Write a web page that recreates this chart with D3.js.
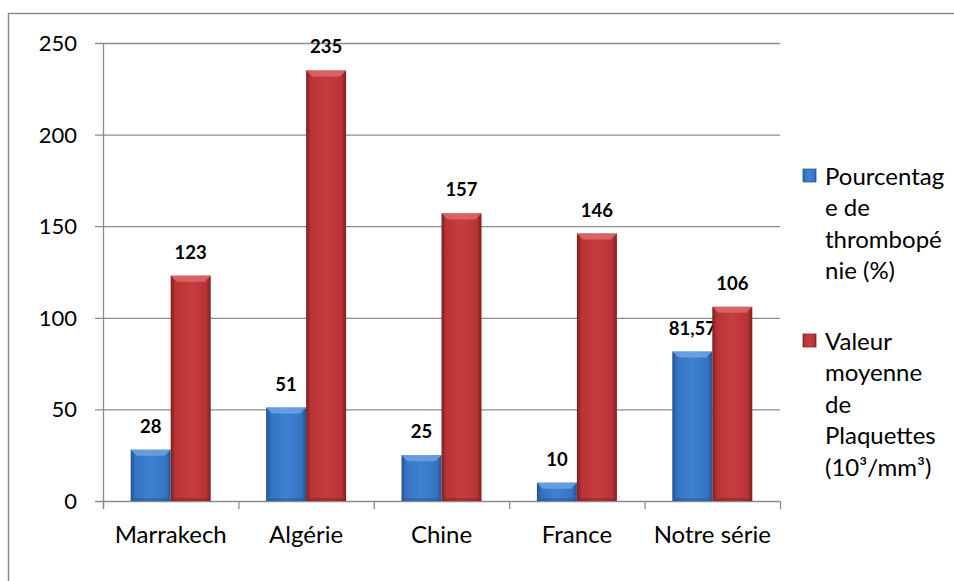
<!DOCTYPE html>
<html><head><meta charset="utf-8">
<script src="https://cdn.jsdelivr.net/npm/d3@7"></script>
<style>body{margin:0;background:#fff}svg{display:block}</style>
</head><body>
<svg id="c" width="954" height="581"></svg>
<script>
const categories = ["Marrakech", "Algérie", "Chine", "France", "Notre série"];
const pourcentage = [28, 51, 25, 10, 81.57];
const plaquettes = [123, 235, 157, 146, 106];
const pourcentageLabels = ["28", "51", "25", "10", "81,57"];
const plaquettesLabels = ["123", "235", "157", "146", "106"];
const yTicks = [0, 50, 100, 150, 200, 250];
const legendLines1 = ["Pourcentag", "e de", "thrombopé", "nie (%)"];
const legendLines2 = ["Valeur", "moyenne", "de", "Plaquettes", "(10³/mm³)"];

const FONT = "Lato, 'Open Sans', sans-serif";
const svg = d3.select("#c");
const defs = svg.append("defs");
function grad(id, edge, mid, light) {
  const g = defs.append("linearGradient").attr("id", id).attr("x1", 0).attr("x2", 1).attr("y1", 0).attr("y2", 0);
  g.append("stop").attr("offset", "0").attr("stop-color", edge);
  g.append("stop").attr("offset", "0.12").attr("stop-color", mid);
  g.append("stop").attr("offset", "0.5").attr("stop-color", light);
  g.append("stop").attr("offset", "0.88").attr("stop-color", mid);
  g.append("stop").attr("offset", "1").attr("stop-color", edge);
}
grad("gBlue", "#24558f", "#3473c2", "#3f82d2");
grad("gRed", "#7e1f1f", "#b83436", "#c73d3e");

svg.append("rect").attr("x", 8.5).attr("y", 13.5).attr("width", 1000).attr("height", 1000)
  .attr("fill", "none").attr("stroke", "#8c8c8c").attr("stroke-width", 1.5);

const x0 = 103, x1 = 780, yTop = 43, yBot = 501;
const x = d3.scaleBand().domain(categories).range([x0, x1]).paddingInner(0).paddingOuter(0);
const y = d3.scaleLinear().domain([0, 250]).range([yBot, yTop]);
const barW = 40;

// gridlines
svg.append("g").selectAll("line").data(yTicks).join("line")
  .attr("x1", x0 - 8).attr("x2", x1).attr("y1", d => y(d) + 0.5).attr("y2", d => y(d) + 0.5)
  .attr("stroke", "#8c8c8c").attr("stroke-width", 1.3);
// y axis line
svg.append("line").attr("x1", x0 + 0.5).attr("x2", x0 + 0.5).attr("y1", yTop).attr("y2", yBot + 8)
  .attr("stroke", "#8c8c8c").attr("stroke-width", 1.3);
// category ticks
svg.append("g").selectAll("line").data(d3.range(categories.length + 1)).join("line")
  .attr("x1", i => x0 + i * x.bandwidth() + 0.5).attr("x2", i => x0 + i * x.bandwidth() + 0.5)
  .attr("y1", yBot).attr("y2", yBot + 8).attr("stroke", "#8c8c8c").attr("stroke-width", 1.3);

// y tick labels
svg.append("g").selectAll("text").data(yTicks).join("text")
  .attr("x", 77).attr("y", d => y(d)).attr("dy", "0.36em").attr("text-anchor", "end")
  .attr("font-family", FONT).attr("font-size", 22).attr("fill", "#000").text(d => d);

// x labels
svg.append("g").selectAll("text").data(categories).join("text")
  .attr("x", d => x(d) + x.bandwidth() / 2).attr("y", 543).attr("text-anchor", "middle")
  .attr("font-family", FONT).attr("font-size", 24).attr("fill", "#000").text(d => d);

function drawBars(values, labels, offset, gid, light, dark) {
  const g = svg.append("g");
  values.forEach((v, i) => {
    const bx = x(categories[i]) + x.bandwidth() / 2 + offset;
    const by = y(v), bh = yBot - by;
    g.append("rect").attr("x", bx).attr("y", by).attr("width", barW).attr("height", bh).attr("fill", `url(#${gid})`);
    const b = Math.min(6, bh / 2);
    g.append("path").attr("d", `M${bx},${by}L${bx + barW},${by}L${bx + barW - 6},${by + b}L${bx + 6},${by + b}Z`).attr("fill", light).attr("opacity", 0.85);
    g.append("path").attr("d", `M${bx},${yBot}L${bx + barW},${yBot}L${bx + barW - 5},${yBot - Math.min(3,bh/2)}L${bx + 5},${yBot - Math.min(3,bh/2)}Z`).attr("fill", dark).attr("opacity", 0.35);
    g.append("text").attr("x", bx + barW / 2).attr("y", by - 17).attr("text-anchor", "middle")
      .attr("font-family", FONT).attr("font-weight", "bold").attr("font-size", 18.5).attr("fill", "#000").text(labels[i]);
  });
}
drawBars(pourcentage, pourcentageLabels, -barW, "gBlue", "#6fa3e3", "#1e4a80");
drawBars(plaquettes, plaquettesLabels, 0, "gRed", "#dd6a6a", "#6e1a1a");

// legend
function legend(lines, y0, gid) {
  svg.append("rect").attr("x", 803).attr("y", y0 - 7).attr("width", 13).attr("height", 13).attr("fill", `url(#${gid})`)
    .attr("stroke", gid === "gBlue" ? "#2a5d9c" : "#8b2424").attr("stroke-width", 0.8);
  svg.append("g").selectAll("text").data(lines).join("text")
    .attr("x", 825).attr("y", (d, i) => y0 + i * 31.6).attr("dy", "0.36em")
    .attr("font-family", FONT).attr("font-size", 24).attr("fill", "#000").text(d => d);
}
legend(legendLines1, 176, "gBlue");
legend(legendLines2, 341, "gRed");
</script>
</body></html>
